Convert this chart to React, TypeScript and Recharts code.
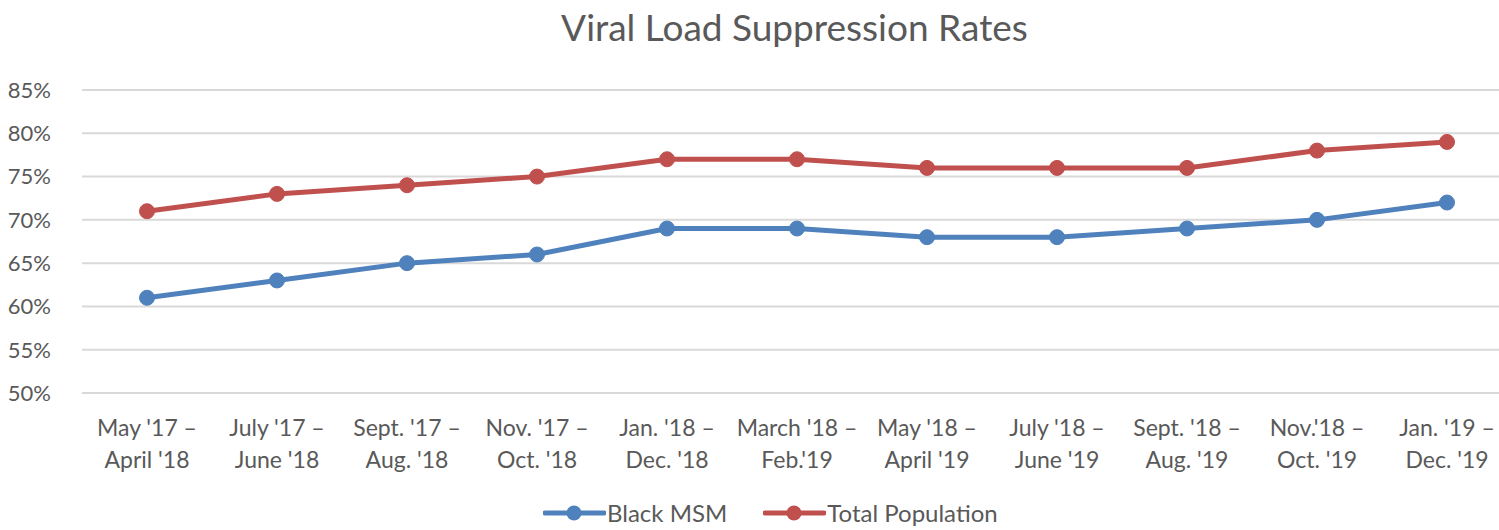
import { LineChart, Line, XAxis, YAxis, CartesianGrid } from "recharts"

const periods = [
  "May '17 –\nApril '18",
  "July '17 –\nJune '18",
  "Sept. '17 –\nAug. '18",
  "Nov. '17 –\nOct. '18",
  "Jan. '18 –\nDec. '18",
  "March '18 –\nFeb.'19",
  "May '18 –\nApril '19",
  "July '18 –\nJune '19",
  "Sept. '18 –\nAug. '19",
  "Nov.'18 –\nOct. '19",
  "Jan. '19 –\nDec. '19",
]

const blackMsm = [61, 63, 65, 66, 69, 69, 68, 68, 69, 70, 72]
const totalPopulation = [71, 73, 74, 75, 77, 77, 76, 76, 76, 78, 79]

const yTicks = [50, 55, 60, 65, 70, 75, 80, 85]

const series = [
  { key: "blackMsm", name: "Black MSM", color: "#4F81BD" },
  { key: "totalPopulation", name: "Total Population", color: "#C0504D" },
]

const data = periods.map((period, i) => ({
  period,
  blackMsm: blackMsm[i],
  totalPopulation: totalPopulation[i],
}))

const FONT = "Lato, 'Open Sans', sans-serif"
const TEXT = "#595959"

function PeriodTick(props: any) {
  const { x, y, payload } = props
  const lines = String(payload.value).split("\n")
  return (
    <text x={x} y={y} textAnchor="middle" fill={TEXT} fontSize={23} fontFamily={FONT}>
      {lines.map((l, i) => (
        <tspan key={i} x={x} dy={i === 0 ? 35 : 32}>
          {l}
        </tspan>
      ))}
    </text>
  )
}

export default function App() {
  return (
    <div
      style={{
        position: "absolute",
        left: 0,
        top: 0,
        width: 1499,
        height: 530,
        overflow: "hidden",
        background: "#fff",
        fontFamily: FONT,
      }}
    >
      <div
        style={{
          position: "absolute",
          left: 0,
          width: 1589,
          top: 4,
          textAlign: "center",
          fontSize: 37,
          color: TEXT,
        }}
      >
        Viral Load Suppression Rates
      </div>
      <LineChart
        width={1520}
        height={530}
        data={data}
        margin={{ top: 90, right: 8, left: 0, bottom: 0 }}
      >
        <CartesianGrid vertical={false} stroke="#D9D9D9" strokeWidth={2} />
        <XAxis
          dataKey="period"
          interval={0}
          height={137}
          padding={{ left: 65, right: 65 }}
          tick={<PeriodTick />}
          tickLine={false}
          axisLine={{ stroke: "#D9D9D9", strokeWidth: 2 }}
        />
        <YAxis
          width={82}
          domain={[50, 85]}
          ticks={yTicks}
          tickFormatter={(v) => `${v}%`}
          axisLine={false}
          tickLine={false}
          tickMargin={25}
          tick={{ fill: TEXT, fontSize: 22, fontFamily: FONT }}
        />
        {series.map((s) => (
          <Line
            key={s.key}
            dataKey={s.key}
            name={s.name}
            stroke={s.color}
            strokeWidth={5}
            dot={{ r: 7.5, fill: s.color, stroke: s.color, strokeWidth: 1 }}
            isAnimationActive={false}
          />
        ))}
      </LineChart>
      <div
        style={{
          position: "absolute",
          top: 499,
          left: 543,
          display: "flex",
          alignItems: "center",
          fontSize: 24,
          lineHeight: "28px",
          color: TEXT,
        }}
      >
        {series.map((s, i) => (
          <div key={s.key} style={{ display: "flex", alignItems: "center", marginRight: i === 0 ? 36 : 0 }}>
            <svg width={63} height={22}>
              <line x1={2} y1={11} x2={61} y2={11} stroke={s.color} strokeWidth={5} strokeLinecap="round" />
              <circle cx={31} cy={11} r={7.5} fill={s.color} />
            </svg>
            <span style={{ marginLeft: 1 }}>{s.name}</span>
          </div>
        ))}
      </div>
    </div>
  )
}
